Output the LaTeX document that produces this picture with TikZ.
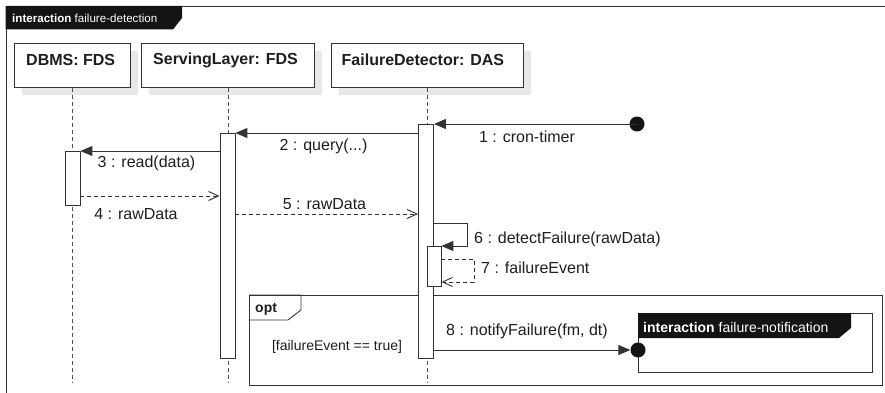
\documentclass[tikz,border=0pt]{standalone}
\usepackage{fontspec}
\setmainfont{Liberation Sans}
\usetikzlibrary{arrows.meta,calc,shadows}
\definecolor{ln}{HTML}{333333}
\definecolor{shade}{HTML}{E8E8E8}
\definecolor{tabc}{HTML}{141414}
\definecolor{txt}{HTML}{1E1E1E}
\begin{document}
\begin{tikzpicture}[x=1pt,y=-1pt,
  lbl/.style={font=\fontsize{16}{19}\selectfont, inner sep=0pt, text=txt},
  headtxt/.style={font=\fontsize{16}{19}\selectfont\bfseries, inner sep=0pt, text=txt, anchor=west},
  headbox/.style={draw=ln, line width=0.9pt, fill=white, inner sep=0pt, anchor=north west,
    minimum height=44pt, drop shadow={shadow xshift=8pt, shadow yshift=-8pt, fill=shade, opacity=1}},
  lifeline/.style={draw=ln!85, line width=0.9pt, dash pattern=on 4pt off 3pt},
  actbar/.style={draw=ln, line width=0.8pt, fill=white, inner sep=0pt, minimum width=15pt, anchor=north},
  sync/.style={draw=ln, line width=1pt, -{Triangle[length=12pt,width=10pt]}},
  reply/.style={draw=ln, line width=0.9pt, dash pattern=on 4pt off 3pt, -{Straight Barb[length=10pt,width=9pt]}},
  frame/.style={draw=ln, line width=0.9pt, inner sep=0pt, anchor=north west},
  dot/.style={circle, fill=tabc, inner sep=0pt, minimum size=15pt},
  tabtxt/.style={inner sep=0pt, anchor=west, text=white}
]
\useasboundingbox (0,0) rectangle (885,393);
% outer frame
\draw[ln, line width=0.9pt] (885,6.5) -- (6,6.5) -- (6,393);
\fill[tabc] (5.5,6) -- (182,6) -- (182,18) -- (173,29.5) -- (5.5,29.5) -- cycle;
\node[tabtxt, font=\fontsize{11.6}{14}\selectfont] (outertab) at (12,18) {\textbf{interaction} failure-detection};

% lifeline heads
\node[headbox, minimum width=116pt] (dbms) at (14,43) {};
\node[headtxt] (dbmst) at ($(dbms.north west)+(12,17)$) {DBMS: FDS};
\node[headbox, minimum width=173pt] (sl) at (141,43) {};
\node[headtxt] (slt) at ($(sl.north west)+(12,17)$) {ServingLayer: FDS};
\node[headbox, minimum width=192pt] (fd) at (330.5,43) {};
\node[headtxt] (fdt) at ($(fd.north west)+(11,17)$) {FailureDetector: DAS};

% lifelines
\coordinate (lend) at (0,383);
\draw[lifeline] (dbms.south) -- (dbms.south |- lend);
\draw[lifeline] (sl.south) -- (sl.south |- lend);
\draw[lifeline] (fd.south) -- (fd.south |- lend);

% opt frame
\node[frame, minimum width=633pt, minimum height=90pt] (opt) at (249,295) {};
\draw[ln, line width=0.9pt] (opt.north west) -- ++(52,0) -- ++(0,15) -- ++(-13,10) -- ++(-39,0);
\node[inner sep=0pt, anchor=west, font=\fontsize{14}{17}\selectfont\bfseries, text=txt] (optt) at (255,309) {opt};
\node[lbl, font=\fontsize{14}{17}\selectfont] (guard) at (337,347) {[failureEvent == true]};

% activation bars
\node[actbar, minimum height=54pt] (dbar) at (72.5,151) {};
\node[actbar, minimum height=225pt] (sbar) at (227.5,133) {};
\node[actbar, minimum height=234pt] (fbar) at (426,124) {};
\node[actbar, minimum width=14pt, minimum height=40pt] (nbar) at (434,246) {};

% interaction reference
\node[frame, minimum width=234pt, minimum height=59pt] (ref) at (638,313) {};
\fill[tabc] (ref.north west) -- ++(213,0) -- ++(0,15) -- ++(-12,10) -- ++(-201,0) -- cycle;
\node[tabtxt, font=\fontsize{14}{17}\selectfont] (reft) at (643,327) {\textbf{interaction} failure-notification};

% message coordinates
\coordinate (m4) at (0,196);
\coordinate (m5) at (0,214);
\coordinate (m6) at (0,223);
\coordinate (m7a) at (0,259);
\coordinate (m7b) at (0,282);
\coordinate (m8) at (0,350);

% messages
\node[dot] (start) at (637,124) {};
\draw[sync] (start.center) -- (fbar.north east);
\node[lbl] (l1) at (527,137) {1 : cron-timer};

\draw[sync] (fbar.west |- sbar.north) -- (sbar.north east);
\node[lbl] (l2) at (323.5,146) {2 : query(...)};

\draw[sync] (sbar.west |- dbar.north) -- (dbar.north east);
\node[lbl] (l3) at (146.5,163) {3 : read(data)};

\draw[reply] (dbar.east |- m4) -- (sbar.west |- m4);
\node[lbl] (l4) at (136,214) {4 : rawData};

\draw[reply] (sbar.east |- m5) -- (fbar.west |- m5);
\node[lbl] (l5) at (324.5,204) {5 : rawData};

\draw[sync] (fbar.east |- m6) -- ++(34,0) |- (nbar.north east);
\node[lbl, anchor=west] (l6) at (474,239) {6 : detectFailure(rawData)};

\draw[reply] (nbar.east |- m7a) -- ++(33,0) |- (nbar.east |- m7b);
\node[lbl, anchor=west] (l7) at (481,268) {7 : failureEvent};

\node[dot] (enddot) at (638,350) {};
\draw[sync] (fbar.east |- m8) -- (enddot.west);
\node[lbl] (l8) at (527,331) {8 : notifyFailure(fm, dt)};
\end{tikzpicture}
\end{document}
